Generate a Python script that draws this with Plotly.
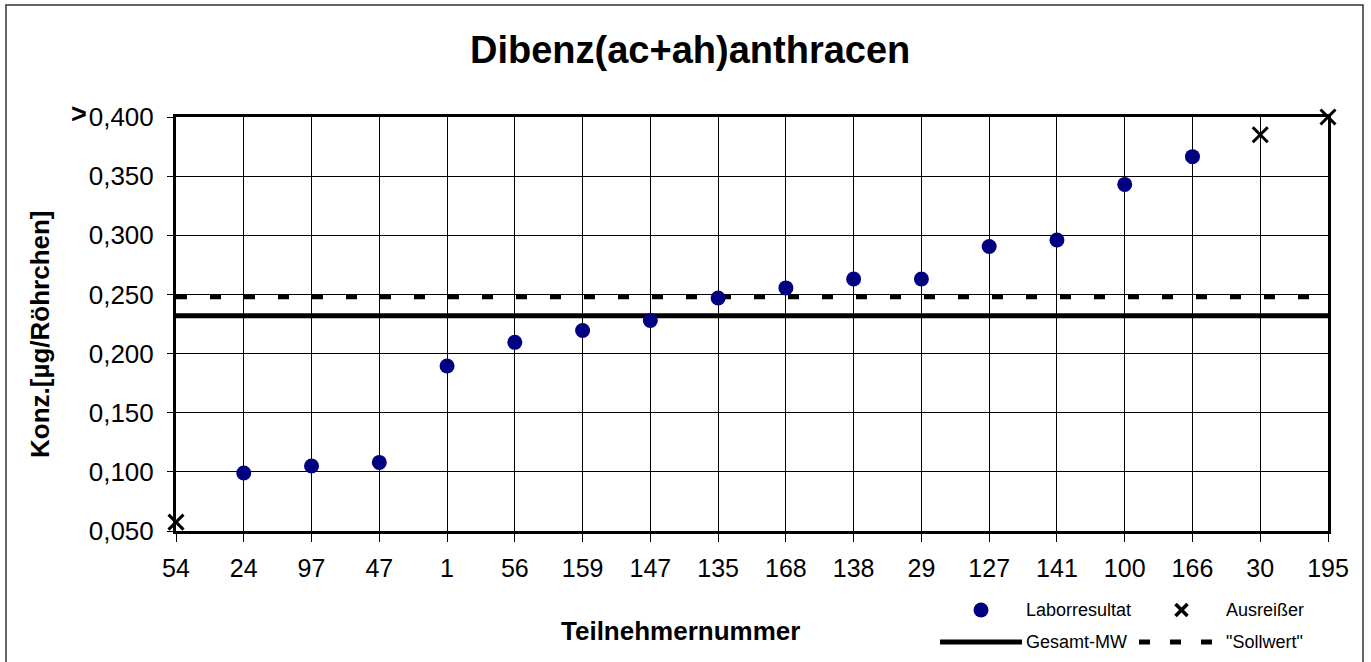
import plotly.graph_objects as go

# ---------------- data ----------------
participants = ["54", "24", "97", "47", "1", "56", "159", "147", "135",
                "168", "138", "29", "127", "141", "100", "166", "30", "195"]
lab_ids = ["24", "97", "47", "1", "56", "159", "147", "135",
           "168", "138", "29", "127", "141", "100", "166"]
lab_values = [0.099, 0.105, 0.108, 0.1895, 0.2095, 0.2195, 0.228, 0.247,
              0.2555, 0.263, 0.263, 0.2905, 0.296, 0.343, 0.3665]
outlier_ids = ["54", "30", "195"]
outlier_values = [0.0575, 0.385, 0.400]
gesamt_mw = 0.232
sollwert = 0.248
y_tickvals = [0.05, 0.10, 0.15, 0.20, 0.25, 0.30, 0.35, 0.40]

FONT = "Liberation Sans, Arial, sans-serif"
W, H = 1371, 662
L, R, T, B = 176, 43, 117, 131
PW, PH = W - L - R, H - T - B


def px(x):
    return (x - L) / PW


def py(y):
    return (H - B - y) / PH


fig = go.Figure()

fig.add_trace(go.Scatter(
    x=[participants[0], participants[-1]], y=[gesamt_mw, gesamt_mw],
    mode="lines", line=dict(color="black", width=5), showlegend=False,
    cliponaxis=False, hoverinfo="skip"))
fig.add_trace(go.Scatter(
    x=[participants[0], participants[-1]], y=[sollwert, sollwert],
    mode="lines", line=dict(color="black", width=5, dash="11px,23px"),
    showlegend=False, cliponaxis=False, hoverinfo="skip"))
fig.add_trace(go.Scatter(
    x=lab_ids, y=lab_values, mode="markers",
    marker=dict(symbol="circle", size=15, color="#000080"),
    showlegend=False, cliponaxis=False, name="Laborresultat"))
fig.add_trace(go.Scatter(
    x=outlier_ids, y=outlier_values, mode="markers",
    marker=dict(symbol="x-thin-open", size=15, color="black",
                line=dict(color="black", width=3)),
    showlegend=False, cliponaxis=False, name="Ausreißer"))

fig.update_layout(
    width=W, height=H,
    margin=dict(l=L, r=R, t=T, b=B),
    paper_bgcolor="white", plot_bgcolor="white",
    separators=",.",
    font=dict(family=FONT, color="black", size=24),
    showlegend=False,
)

fig.update_xaxes(
    type="category", categoryorder="array", categoryarray=participants,
    range=[0, len(participants) - 1],
    showgrid=True, gridcolor="black", gridwidth=1,
    showline=True, linecolor="black", linewidth=3, mirror=True,
    ticks="outside", ticklen=8, tickwidth=1, tickcolor="black",
    ticklabelstandoff=5,
    tickfont=dict(size=25, family=FONT), zeroline=False,
)
fig.update_yaxes(
    range=[0.05, 0.40], tickvals=y_tickvals, tickformat=".3f",
    showgrid=True, gridcolor="black", gridwidth=1,
    showline=True, linecolor="black", linewidth=3, mirror=True,
    ticks="outside", ticklen=6, tickwidth=1, tickcolor="black",
    ticklabelstandoff=8,
    tickfont=dict(size=26, family=FONT), zeroline=False,
)

ann = []
# title
ann.append(dict(text="<b>Dibenz(ac+ah)anthracen</b>", x=px(690), y=py(50),
                xref="paper", yref="paper", showarrow=False,
                font=dict(size=38, family=FONT), xanchor="center", yanchor="middle"))
# axis titles
ann.append(dict(text="<b>Teilnehmernummer</b>", x=px(680), y=py(631),
                xref="paper", yref="paper", showarrow=False,
                font=dict(size=26, family=FONT), xanchor="center", yanchor="middle"))
ann.append(dict(text="<b>Konz.[µg/Röhrchen]</b>", x=px(40), y=py(334),
                xref="paper", yref="paper", showarrow=False, textangle=-90,
                font=dict(size=26, family=FONT), xanchor="center", yanchor="middle"))
# ">" marker
ann.append(dict(text="<b>></b>", x=px(79), y=py(114),
                xref="paper", yref="paper", showarrow=False,
                font=dict(size=27, family=FONT), xanchor="center", yanchor="middle"))
# legend texts
for t, x, y in [("Laborresultat", 1024, 610), ("Ausreißer", 1224, 610),
                ("Gesamt-MW", 1024, 642), ('"Sollwert"', 1224, 642)]:
    ann.append(dict(text=t, x=px(x), y=py(y), xref="paper", yref="paper",
                    showarrow=False, font=dict(size=18, family=FONT),
                    xanchor="left", yanchor="middle"))
fig.update_layout(annotations=ann)

shapes = []
# outer frame
shapes.append(dict(type="rect", xref="paper", yref="paper",
                   x0=px(6), x1=px(1363), y0=py(667), y1=py(5),
                   line=dict(color="#333333", width=1.5), layer="below"))
# legend: circle
shapes.append(dict(type="circle", xref="paper", yref="paper",
                   xsizemode="pixel", ysizemode="pixel",
                   xanchor=px(981), yanchor=py(610),
                   x0=-7.5, x1=7.5, y0=-7.5, y1=7.5,
                   fillcolor="#000080", line=dict(color="#000080", width=0)))
# legend: X marker
for (a, b) in [(-6, 6), (6, -6)]:
    shapes.append(dict(type="line", xref="paper", yref="paper",
                       xsizemode="pixel", ysizemode="pixel",
                       xanchor=px(1181.5), yanchor=py(610),
                       x0=a, x1=b, y0=-6, y1=6,
                       line=dict(color="black", width=3.5)))
# legend: solid line
shapes.append(dict(type="line", xref="paper", yref="paper",
                   x0=px(940), x1=px(1022), y0=py(642), y1=py(642),
                   line=dict(color="black", width=5)))
# legend: dashed line
shapes.append(dict(type="line", xref="paper", yref="paper",
                   x0=px(1139), x1=px(1212), y0=py(642), y1=py(642),
                   line=dict(color="black", width=5, dash="11px,20px")))
fig.update_layout(shapes=shapes)

fig.write_html("out.html", config={"displayModeBar": False},
               post_script="document.body.style.margin='0';document.body.style.overflow='hidden';")
